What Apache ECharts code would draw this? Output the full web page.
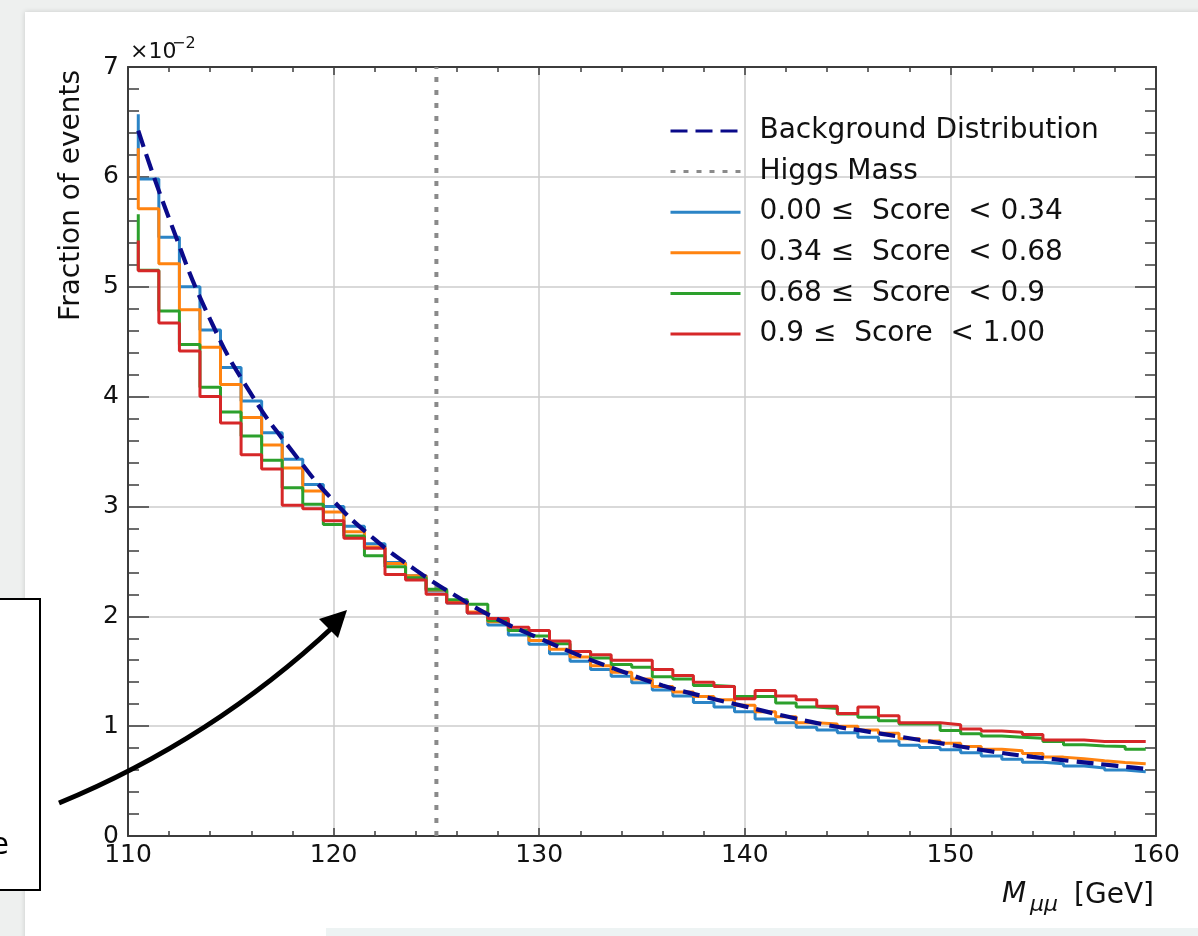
<!DOCTYPE html>
<html>
<head>
<meta charset="utf-8">
<title>Dimuon mass spectrum by score category</title>
<script src="https://cdn.jsdelivr.net/npm/echarts@6.0.0/dist/echarts.min.js"></script>
<style>
  html, body { margin: 0; padding: 0; background: #eef0ef; }
  #chart { width: 1198px; height: 936px; }
</style>
</head>
<body>
<div id="chart"></div>
<script>
// Histogram step points (GeV): the first point opens the step, each later point closes a 1 GeV bin
const massEdges = [110.5, 111.5, 112.5, 113.5, 114.5, 115.5, 116.5, 117.5, 118.5, 119.5,
                   120.5, 121.5, 122.5, 123.5, 124.5, 125.5, 126.5, 127.5, 128.5, 129.5,
                   130.5, 131.5, 132.5, 133.5, 134.5, 135.5, 136.5, 137.5, 138.5, 139.5,
                   140.5, 141.5, 142.5, 143.5, 144.5, 145.5, 146.5, 147.5, 148.5, 149.5,
                   150.5, 151.5, 152.5, 153.5, 154.5, 155.5, 156.5, 157.5, 158.5, 159.5];

// Fraction of events, in units of 1e-2, one value per step point
const fracScoreA = [6.57, 5.98, 5.45, 5.00, 4.605, 4.265, 3.96, 3.67, 3.43, 3.20,
                    3.00, 2.82, 2.66, 2.49, 2.37, 2.23, 2.12, 2.03, 1.92, 1.83,
                    1.745, 1.66, 1.59, 1.515, 1.455, 1.395, 1.33, 1.275, 1.215, 1.175,
                    1.13, 1.065, 1.03, 0.99, 0.965, 0.94, 0.90, 0.865, 0.825, 0.805,
                    0.785, 0.758, 0.728, 0.698, 0.672, 0.657, 0.638, 0.62, 0.60, 0.585];
const fracScoreB = [6.26, 5.71, 5.21, 4.79, 4.45, 4.11, 3.81, 3.56, 3.35, 3.14,
                    2.95, 2.77, 2.63, 2.48, 2.37, 2.24, 2.13, 2.04, 1.95, 1.87,
                    1.78, 1.70, 1.63, 1.55, 1.49, 1.43, 1.36, 1.31, 1.27, 1.24,
                    1.19, 1.13, 1.085, 1.03, 1.02, 1.00, 0.965, 0.935, 0.885, 0.865,
                    0.845, 0.815, 0.79, 0.775, 0.75, 0.718, 0.703, 0.685, 0.67, 0.658];
const fracScoreC = [5.66, 5.15, 4.78, 4.475, 4.085, 3.86, 3.64, 3.42, 3.17, 3.02,
                    2.835, 2.73, 2.55, 2.45, 2.35, 2.245, 2.15, 2.11, 1.96, 1.87,
                    1.82, 1.75, 1.68, 1.62, 1.56, 1.535, 1.45, 1.43, 1.37, 1.36,
                    1.27, 1.27, 1.21, 1.175, 1.16, 1.11, 1.08, 1.05, 1.02, 1.02,
                    0.96, 0.93, 0.91, 0.90, 0.89, 0.86, 0.83, 0.82, 0.815, 0.79];
const fracScoreD = [5.42, 5.145, 4.67, 4.415, 4.00, 3.76, 3.47, 3.34, 3.01, 2.98,
                    2.87, 2.71, 2.62, 2.38, 2.33, 2.20, 2.12, 2.03, 1.98, 1.90,
                    1.87, 1.775, 1.68, 1.65, 1.60, 1.60, 1.515, 1.46, 1.40, 1.36,
                    1.25, 1.325, 1.275, 1.24, 1.18, 1.115, 1.175, 1.095, 1.03, 1.03,
                    1.012, 0.975, 0.955, 0.945, 0.925, 0.873, 0.873, 0.86, 0.86, 0.86];

// Background shape (units of 1e-2)
const bgMass = [110.5, 112, 114, 116, 118, 120, 122, 124, 126, 128, 130, 132, 134,
                136, 138, 140, 142, 144, 146, 148, 150, 152, 154, 156, 158, 159.5];
const bgFrac = [6.42, 5.62, 4.70, 4.02, 3.50, 3.05, 2.70, 2.42, 2.18, 1.97, 1.80, 1.64, 1.50,
                1.37, 1.27, 1.18, 1.09, 1.01, 0.95, 0.89, 0.83, 0.77, 0.72, 0.68, 0.64, 0.61];

const higgsMass = 125;
const fracRange = [0, 7];

const scoreLabels = ['0.00 \u2264  Score  < 0.34', '0.34 \u2264  Score  < 0.68',
                     '0.68 \u2264  Score  < 0.9', '0.9 \u2264  Score  < 1.00'];
const bgLabel = 'Background Distribution';
const higgsLabel = 'Higgs Mass';

const FONT = 'DejaVu Sans';
const AXIS_COLOR = '#3c3c3c';
const histColors = ['#2b84c6', '#ff8310', '#2ca02c', '#d62728'];
const pair = (xs, ys) => xs.map((x, i) => [x, ys[i]]);

const hists = [fracScoreA, fracScoreB, fracScoreC, fracScoreD];

const histSeries = hists.map((vals, k) => ({
  name: scoreLabels[k],
  type: 'line',
  step: 'start',
  symbol: 'none',
  data: pair(massEdges, vals),
  color: histColors[k],
  lineStyle: { color: histColors[k], width: 3 },
  z: 3 + k
}));

function xAxisDef(pos) {
  const main = pos === 'bottom';
  return {
    type: 'value', min: 110, max: 160, interval: 10, position: pos,
    axisLine: { show: true, onZero: false, lineStyle: { color: AXIS_COLOR, width: 2 } },
    axisTick: { show: true, inside: true, length: 8, lineStyle: { color: AXIS_COLOR, width: 1.5 } },
    minorTick: { show: true, splitNumber: 5, length: 5, lineStyle: { color: AXIS_COLOR, width: 1.5 } },
    splitLine: { show: main, lineStyle: { color: '#cccccc', width: 1.5 } },
    axisLabel: { show: main, fontFamily: FONT, fontSize: 25, color: '#111', margin: 7 }
  };
}
function yAxisDef(pos) {
  const main = pos === 'left';
  return {
    type: 'value', min: fracRange[0], max: fracRange[1], interval: 1, position: pos,
    axisLine: { show: true, onZero: false, lineStyle: { color: AXIS_COLOR, width: 2 } },
    axisTick: { show: true, inside: true, length: 21, lineStyle: { color: AXIS_COLOR, width: 1.5 } },
    minorTick: { show: true, splitNumber: 5, length: 11, lineStyle: { color: AXIS_COLOR, width: 1.5 } },
    splitLine: { show: main, lineStyle: { color: '#cccccc', width: 1.5 } },
    axisLabel: { show: main, fontFamily: FONT, fontSize: 25, color: '#111', margin: 9 }
  };
}

const option = {
  animation: false,
  backgroundColor: '#eef0ef',
  grid: { left: 128, top: 67, right: 42, bottom: 100, containLabel: false },
  xAxis: [xAxisDef('bottom'), xAxisDef('top')],
  yAxis: [yAxisDef('left'), yAxisDef('right')],
  legend: {
    orient: 'vertical',
    left: 664,
    top: 111,
    itemWidth: 70,
    itemHeight: 1,
    itemGap: 10.6,
    itemStyle: { opacity: 0 },
    lineStyle: { width: 3 },
    textStyle: { fontFamily: FONT, fontSize: 28, color: '#111', lineHeight: 30, padding: [0, 0, 0, 14] },
    data: [bgLabel, higgsLabel].concat(scoreLabels)
  },
  series: [
    {
      name: higgsLabel,
      type: 'line',
      symbol: 'none',
      data: [[higgsMass, fracRange[0]], [higgsMass, fracRange[1]]],
      color: '#8a8a8a',
      lineStyle: { color: '#8a8a8a', width: 4, type: [5, 8] },
      z: 2
    }
  ].concat(histSeries, [
    {
      name: bgLabel,
      type: 'line',
      smooth: 0.5,
      symbol: 'none',
      data: pair(bgMass, bgFrac),
      color: '#0a0a8a',
      lineStyle: { color: '#0a0a8a', width: 4.2, type: [17, 8] },
      z: 8
    }
  ]),
  graphic: [
    // page card
    { type: 'rect', z: -10, silent: true,
      shape: { x: 25, y: 12, width: 1200, height: 940 },
      style: { fill: '#ffffff', shadowBlur: 5, shadowColor: 'rgba(0,0,0,0.16)' } },
    { type: 'rect', z: -9, silent: true,
      shape: { x: 326, y: 928, width: 900, height: 10 },
      style: { fill: '#edf3f3' } },
    // axis scale factor
    { type: 'text', x: 130, y: 52, z: 20,
      style: { text: '\u00d710', fontFamily: FONT, fontSize: 22, fill: '#111', align: 'left', verticalAlign: 'middle' } },
    { type: 'text', x: 172, y: 44, z: 20,
      style: { text: '\u22122', fontFamily: FONT, fontSize: 16, fill: '#111', align: 'left', verticalAlign: 'middle' } },
    // y axis title
    { type: 'text', x: 72, y: 70, rotation: Math.PI / 2, z: 20,
      style: { text: 'Fraction of events', fontFamily: FONT, fontSize: 28, fill: '#111', align: 'right', verticalAlign: 'middle' } },
    // x axis title
    { type: 'text', x: 1002, y: 895, z: 20,
      style: { text: 'M', fontFamily: FONT, fontStyle: 'italic', fontSize: 28, fill: '#111', align: 'left', verticalAlign: 'middle' } },
    { type: 'text', x: 1030, y: 905, z: 20,
      style: { text: '\u03bc\u03bc', fontFamily: FONT, fontStyle: 'italic', fontSize: 22, fill: '#111', align: 'left', verticalAlign: 'middle' } },
    { type: 'text', x: 1154, y: 896, z: 20,
      style: { text: '[GeV]', fontFamily: FONT, fontSize: 28, fill: '#111', align: 'right', verticalAlign: 'middle' } },
    // callout box and arrow
    { type: 'rect', z: 30,
      shape: { x: -4, y: 599, width: 44, height: 291 },
      style: { fill: '#ffffff', stroke: '#000000', lineWidth: 2 } },
    { type: 'text', x: 9, y: 846, z: 31,
      style: { text: 'e', fontFamily: FONT, fontSize: 30, fill: '#000', align: 'right', verticalAlign: 'middle' } },
    { type: 'bezierCurve', z: 30,
      shape: { x1: 59, y1: 803, cpx1: 212, cpy1: 740, x2: 334, y2: 626 },
      style: { stroke: '#000000', lineWidth: 5, fill: null } },
    { type: 'polygon', z: 30,
      shape: { points: [[347, 610], [319, 619], [338, 638]] },
      style: { fill: '#000000' } }
  ]
};

const chart = echarts.init(document.getElementById('chart'), null, { renderer: 'canvas' });
chart.setOption(option);
</script>
</body>
</html>
